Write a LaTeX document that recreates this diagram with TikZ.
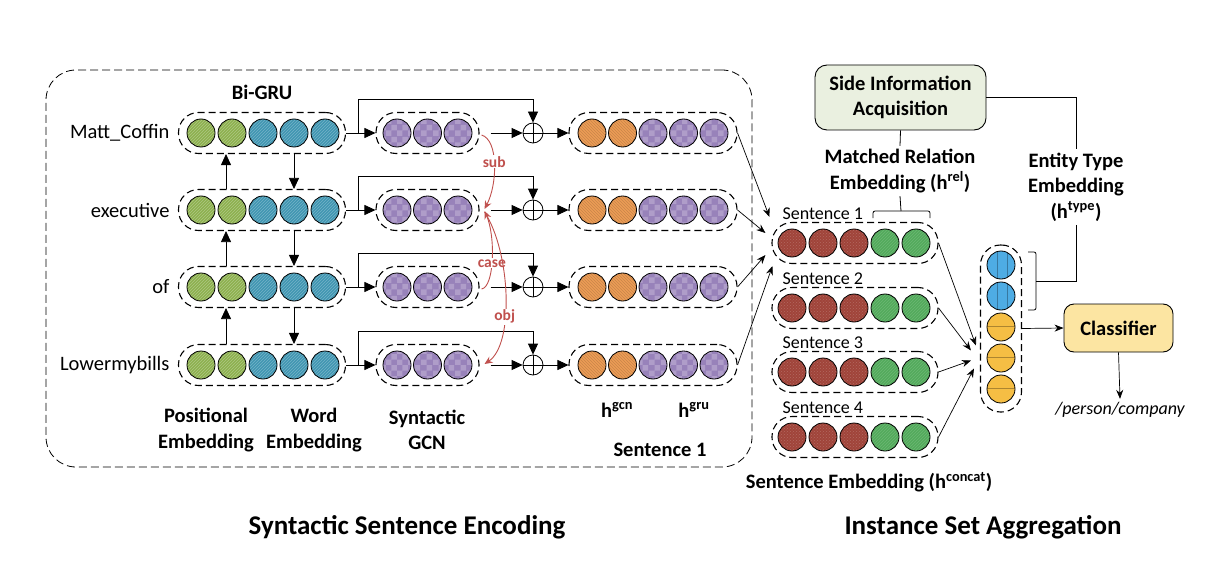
\documentclass[tikz,border=0pt]{standalone}
\usepackage{fontspec}
\setmainfont{Carlito}
\usetikzlibrary{arrows.meta,patterns,calc}
\definecolor{cOlive}{RGB}{141,177,78}
\definecolor{cTeal}{RGB}{64,150,178}
\definecolor{cPurple}{RGB}{152,130,186}
\definecolor{cOrange}{RGB}{236,156,86}
\definecolor{cRed}{RGB}{160,68,58}
\definecolor{cGreen}{RGB}{82,170,92}
\definecolor{cBlue}{RGB}{78,172,228}
\definecolor{cYellow}{RGB}{245,190,68}
\definecolor{cSide}{RGB}{234,240,224}
\definecolor{cCls}{RGB}{252,229,162}
\definecolor{cArc}{RGB}{192,80,77}
\tikzset{
  dot/.style={circle, draw=black, line width=0.8pt, minimum size=28pt, inner sep=0pt},
  gdot/.style={dot, preaction={fill=cOlive}, pattern=north east lines, pattern color=cOlive!70!white},
  tdot/.style={dot, preaction={fill=cTeal}, pattern=north east lines, pattern color=cTeal!72!white},
  pdot/.style={dot, preaction={fill=cPurple}, pattern=checkerboard, pattern color=cPurple!78!white},
  odot/.style={dot, preaction={fill=cOrange}, pattern=north west lines, pattern color=cOrange!85!black},
  rdot/.style={dot, preaction={fill=cRed}, pattern=crosshatch dots, pattern color=cRed!80!white},
  sdot/.style={dot, preaction={fill=cGreen}, pattern=north east lines, pattern color=cGreen!85!white},
  bdot/.style={dot, fill=cBlue, path picture={
      \draw[cBlue!70!black, line width=0.6pt] ([xshift=-4pt]path picture bounding box.north) -- ([xshift=-4pt]path picture bounding box.south);
      \draw[cBlue!70!black, line width=0.6pt] ([xshift=6pt]path picture bounding box.north) -- ([xshift=6pt]path picture bounding box.south);}},
  ydot/.style={dot, fill=cYellow, path picture={
      \draw[cYellow!70!black, line width=0.6pt] ([yshift=1pt]path picture bounding box.west) -- ([yshift=1pt]path picture bounding box.east);}},
  capsule/.style={draw, dash pattern=on 7pt off 4pt, line width=1.1pt, rounded corners=20pt, minimum height=41pt, inner sep=0pt},
  vcapsule/.style={draw, dash pattern=on 7pt off 4pt, line width=1.1pt, rounded corners=20pt, minimum width=41pt, inner sep=0pt},
  oplus/.style={circle, draw, line width=0.8pt, minimum size=20pt, inner sep=0pt, path picture={
      \draw[line width=0.8pt] (path picture bounding box.north) -- (path picture bounding box.south);
      \draw[line width=0.8pt] (path picture bounding box.west) -- (path picture bounding box.east);}},
  arr/.style={line width=0.8pt, -{Triangle[length=11pt,width=10pt]}},
  arrs/.style={line width=0.7pt, -{Stealth[length=9pt,width=7pt]}},
  redarr/.style={draw=cArc, line width=0.9pt, -{Stealth[length=8pt,width=7pt]}},
  lbl/.style={font=\fontsize{20.5}{26}\selectfont},
  blbl/.style={font=\bfseries\fontsize{20.5}{25.5}\selectfont},
  slbl/.style={font=\fontsize{18}{22}\selectfont},
  rlbl/.style={font=\bfseries\fontsize{15.5}{17}\selectfont, text=cArc, fill=white, inner sep=1pt},
  title/.style={font=\bfseries\fontsize{27}{32}\selectfont}
}
\begin{document}
\begin{tikzpicture}[x=1pt,y=-1pt]
\useasboundingbox (0,0) rectangle (1214,580);

% encoder frame
\node[draw, dash pattern=on 8pt off 4pt, line width=0.8pt, rounded corners=30pt, minimum width=706pt, minimum height=397pt, inner sep=0pt] (enc) at (399,268.5) {};

\node[blbl] (bigru) at (262,92) {Bi-GRU};

\foreach \r/\y/\w in {1/133/{Matt\_Coffin},2/210/executive,3/287/of,4/365/Lowermybills}{
  \node[lbl, anchor=east] (word\r) at (173,\y) {\w};
  \node[gdot] (gru\r-1) at (201,\y) {};
  \node[gdot] (gru\r-2) at (232,\y) {};
  \node[tdot] (gru\r-3) at (263,\y) {};
  \node[tdot] (gru\r-4) at (294,\y) {};
  \node[tdot] (gru\r-5) at (325,\y) {};
  \node[capsule, minimum width=167pt] (gruC\r) at (262,\y) {};
  \node[pdot] (gcn\r-1) at (397,\y) {};
  \node[pdot] (gcn\r-2) at (427.5,\y) {};
  \node[pdot] (gcn\r-3) at (458,\y) {};
  \node[capsule, minimum width=103pt] (gcnC\r) at (427.5,\y) {};
  \node[oplus] (plus\r) at (533,\y) {};
  \node[odot] (out\r-1) at (592,\y) {};
  \node[odot] (out\r-2) at (622.5,\y) {};
  \node[pdot] (out\r-3) at (653,\y) {};
  \node[pdot] (out\r-4) at (683.5,\y) {};
  \node[pdot] (out\r-5) at (714,\y) {};
  \node[capsule, minimum width=168pt] (outC\r) at (653,\y) {};
  \draw[arr] (gruC\r.east) -- (gcnC\r.west);
  \draw[arr] ([xshift=12pt]gruC\r.east) -- ++(0,-34) -| (plus\r.north);
  \draw[arr] ([xshift=11pt]gcnC\r.east) -- (plus\r.west);
  \draw[arr] (plus\r.east) -- (outC\r.west);
}

% Bi-GRU vertical arrows
\foreach \a/\b in {1/2,2/3,3/4}{
  \draw[arr] ([xshift=32pt]gruC\a.south) -- ([xshift=32pt]gruC\b.north);
  \draw[arr] ([xshift=-36pt]gruC\b.north) -- ([xshift=-36pt]gruC\a.south);
}

% dependency arcs
\draw[redarr] ([xshift=2pt,yshift=-2pt]gcnC1.east) .. controls +(17,5) and +(13,-25) .. ([xshift=5pt,yshift=1pt]gcnC2.east)
   node[rlbl, pos=0.47] {sub};
\draw[redarr] ([xshift=2pt,yshift=-2pt]gcnC3.east) .. controls +(13,-2) and +(11,25) .. ([xshift=5pt,yshift=-1pt]gcnC2.east)
   node[rlbl, pos=0.45] {case};
\draw[redarr] ([xshift=5pt,yshift=-2pt]gcnC2.east) .. controls +(26,40) and +(30,-20) .. ([xshift=5pt,yshift=1pt]gcnC4.east)
   node[rlbl, pos=0.62] {obj};

% encoder bottom labels
\node[blbl, align=center] (posL) at (206,430) {Positional\\Embedding};
\node[blbl, align=center] (wordL) at (314,430) {Word\\Embedding};
\node[blbl, align=center] (gcnL) at (427,430) {Syntactic\\GCN};
\node[blbl] (hgcn) at (617,410) {h\textsuperscript{gcn}};
\node[blbl] (hgru) at (694,410) {h\textsuperscript{gru}};
\node[blbl] (s1L) at (660,450) {Sentence 1};

% sentence embeddings
\foreach \r/\y in {1/243,2/308,3/372,4/437}{
  \node[slbl, anchor=west] (sl\r) at (779,\y-29) {Sentence \r};
  \node[rdot] (sen\r-1) at (792,\y) {};
  \node[rdot] (sen\r-2) at (823,\y) {};
  \node[rdot] (sen\r-3) at (854,\y) {};
  \node[sdot] (sen\r-4) at (885,\y) {};
  \node[sdot] (sen\r-5) at (916,\y) {};
  \node[capsule, minimum width=166pt] (senC\r) at (855,\y) {};
}
\node[blbl] (sEmb) at (869,482) {Sentence Embedding (h\textsuperscript{concat})};

% encoder -> sentence 1
\draw[arrs] (outC1.east) -- ($(senC1.west)+(-2,-26)$);
\draw[arrs] (outC2.east) -- ($(senC1.west)+(-6,-10)$);
\draw[arrs] (outC3.east) -- ($(senC1.west)+(-6,12)$);
\draw[arrs] (outC4.east) -- ($(senC1.west)+(1,23)$);

% aggregated vector
\node[bdot] (agg1) at (1001,265) {};
\node[bdot] (agg2) at (1001,296) {};
\node[ydot] (agg3) at (1001,327) {};
\node[ydot] (agg4) at (1001,358) {};
\node[ydot] (agg5) at (1001,389) {};
\node[vcapsule, minimum height=167pt] (aggC) at (1001,328.5) {};

\draw[arrs] (senC1.east) -- ($(aggC.west)+(-4,17)$);
\draw[arrs] (senC2.east) -- ($(aggC.west)+(-9,22)$);
\draw[arrs] (senC3.east) -- ($(aggC.west)+(-9,32)$);
\draw[arrs] (senC4.east) -- ($(aggC.west)+(-6,40)$);

% side information
\node[draw, line width=0.9pt, rounded corners=12pt, fill=cSide, minimum width=171pt, minimum height=65pt, align=center, blbl] (side) at (900.5,97.5) {Side Information\\Acquisition};
\node[blbl, align=center] (rel) at (900,171) {Matched Relation\\Embedding (h\textsuperscript{rel})};
\node[blbl, align=center] (ent) at (1076,187) {Entity Type\\Embedding\\(h\textsuperscript{type})};

\coordinate (relB) at (901,211);
\draw[line width=0.8pt, rounded corners=2pt] (873,218) -- (873,211) -- (930,211) -- (930,218);
\draw[line width=0.8pt] (side.south) -- (rel.north);
\draw[line width=0.8pt] (rel.south) -- (relB);

\coordinate (entB) at (1036,281);
\draw[line width=0.8pt, rounded corners=2pt] (1028,252) -- (1036,252) -- (1036,310) -- (1028,310);
\draw[line width=0.8pt] (side.east) -| (ent.north);
\draw[line width=0.8pt] (ent.south) |- (entB);

% classifier
\node[draw, line width=0.9pt, rounded corners=10pt, fill=cCls, minimum width=109pt, minimum height=48pt, blbl] (cls) at (1118.5,328) {Classifier};
\draw[arrs] (aggC.east) -- (cls.west);
\node[slbl, font=\itshape\fontsize{18}{22}\selectfont] (res) at (1120,410) {/person/company};
\draw[arrs] (cls.south) -- (res.north);

% titles
\node[title] (t1) at (407,527) {Syntactic Sentence Encoding};
\node[title] (t2) at (983,527) {Instance Set Aggregation};
\end{tikzpicture}
\end{document}
